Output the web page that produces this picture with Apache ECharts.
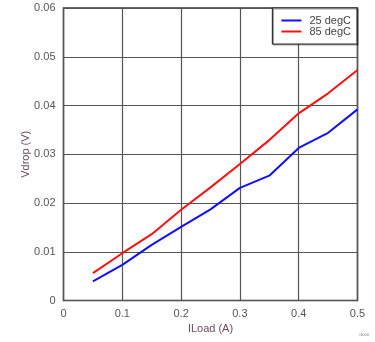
<!DOCTYPE html>
<html>
<head>
<meta charset="utf-8">
<script src="https://cdn.jsdelivr.net/npm/echarts@6/dist/echarts.min.js"></script>
<style>
  html, body { margin: 0; padding: 0; background: #fff; }
  #chart { width: 375px; height: 342px; }
</style>
</head>
<body>
<div id="chart"></div>
<script>
// load current (A)
const iload = [0.05, 0.1, 0.15, 0.2, 0.25, 0.3, 0.35, 0.4, 0.45, 0.5]
// drop voltage (V)
const vdrop25 = [0.0039, 0.0073, 0.0114, 0.0151, 0.0187, 0.0231, 0.0256, 0.0313, 0.0344, 0.0392]
const vdrop85 = [0.0056, 0.0097, 0.0136, 0.0186, 0.0232, 0.0280, 0.0329, 0.0384, 0.0425, 0.0473]
const seriesNames = ['25 degC', '85 degC']

const chart = echarts.init(document.getElementById('chart'))

const titleColor = '#6e4a62'
const labelColor = '#555'
const gridLine = { lineStyle: { color: '#555', width: 1.2 } }

function pairs(ys) {
  return iload.map((x, i) => [x, ys[i]])
}

chart.setOption({
  animation: false,
  backgroundColor: '#fff',
  textStyle: { fontFamily: 'Liberation Sans, Arial, sans-serif' },
  grid: { left: 63.5, right: 17.5, top: 8, bottom: 41.5, show: true, borderColor: '#333', borderWidth: 1.5 },
  legend: {
    right: 18,
    top: 8,
    orient: 'vertical',
    backgroundColor: '#fff',
    borderColor: '#333',
    borderWidth: 1.2,
    borderRadius: 0,
    padding: [7, 6, 7, 9],
    itemGap: 0,
    itemWidth: 20,
    itemHeight: 2,
    icon: 'rect',
    textStyle: { fontSize: 11, color: '#444', padding: [0, 0, 0, 3] },
    shadowColor: 'rgba(0,0,0,0.35)',
    shadowOffsetX: 1,
    shadowOffsetY: 1,
    shadowBlur: 0,
    data: seriesNames
  },
  xAxis: {
    type: 'value',
    min: 0,
    max: 0.5,
    interval: 0.1,
    name: 'ILoad (A)',
    nameLocation: 'middle',
    nameGap: 23,
    nameMoveOverlap: false,
    nameTextStyle: { color: titleColor, fontSize: 11 },
    axisLine: { show: false },
    axisTick: { show: false },
    axisLabel: { color: labelColor, fontSize: 11, margin: 8 },
    splitLine: gridLine
  },
  yAxis: {
    type: 'value',
    min: 0,
    max: 0.06,
    interval: 0.01,
    name: 'Vdrop (V)',
    nameLocation: 'middle',
    nameGap: 32,
    nameMoveOverlap: false,
    nameTextStyle: { color: titleColor, fontSize: 11 },
    axisLine: { show: false },
    axisTick: { show: false },
    axisLabel: { color: labelColor, fontSize: 11, margin: 8 },
    splitLine: gridLine
  },
  graphic: [{
    type: 'text',
    right: 6,
    bottom: 5,
    style: { text: 'G000', fontSize: 4, fill: '#777' }
  }],
  series: [
    {
      name: seriesNames[0],
      type: 'line',
      showSymbol: false,
      data: pairs(vdrop25),
      lineStyle: { color: '#1010ff', width: 2 },
      itemStyle: { color: '#1010ff' }
    },
    {
      name: seriesNames[1],
      type: 'line',
      showSymbol: false,
      data: pairs(vdrop85),
      lineStyle: { color: '#ff1010', width: 2 },
      itemStyle: { color: '#ff1010' }
    }
  ]
})
</script>
</body>
</html>
